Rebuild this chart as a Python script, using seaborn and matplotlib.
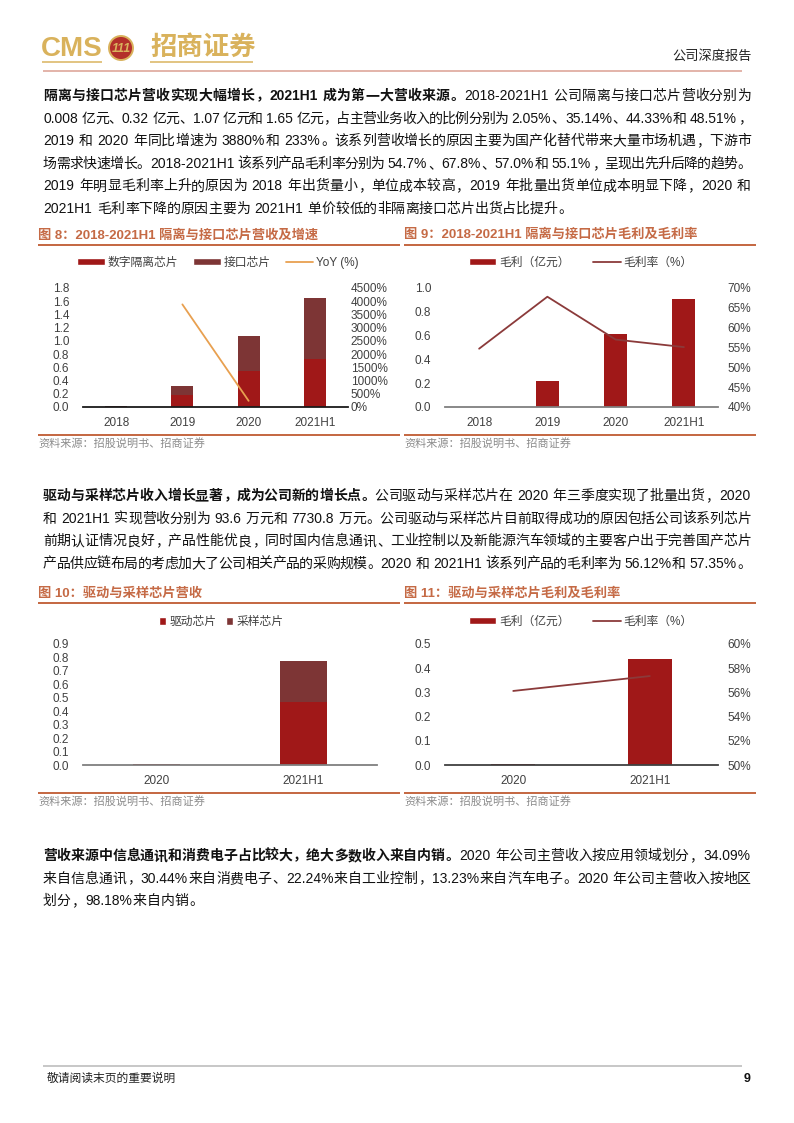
import numpy as np
import pandas as pd
import matplotlib
matplotlib.use("Agg")
import matplotlib.pyplot as plt
import seaborn as sns
from matplotlib.font_manager import FontProperties
from matplotlib.patches import Patch, Circle
from matplotlib.lines import Line2D

# ---------------- data ----------------
fig8_cats = ["2018", "2019", "2020", "2021H1"]
fig8_isolation = [0.005, 0.18, 0.54, 0.72]
fig8_interface = [0.003, 0.14, 0.53, 0.93]
fig8_yoy_cats = ["2019", "2020"]
fig8_yoy = [3880, 233]

fig9_cats = ["2018", "2019", "2020", "2021H1"]
fig9_gross = [0.004, 0.22, 0.61, 0.91]
fig9_margin = [54.7, 67.8, 57.0, 55.1]

fig10_cats = ["2020", "2021H1"]
fig10_driver = [0.004, 0.47]
fig10_sampling = [0.0054, 0.30]

fig11_cats = ["2020", "2021H1"]
fig11_gross = [0.0053, 0.44]
fig11_margin = [56.12, 57.35]

# ---------------- style ----------------
sns.set_style("white")
FAM = ["Liberation Sans", "Noto Sans CJK SC", "DejaVu Sans"]
plt.rcParams["font.family"] = FAM

RED = "#a01818"
BROWN = "#7d3535"
ORANGE = "#e8a050"
MLINE = "#8b3a3a"
TITLEC = "#c56a45"
GOLD = "#d9b25c"
LBL = "#404040"
TICKFS = 8.5

W, H = 794, 1123
fig = plt.figure(figsize=(W / 100, H / 100), dpi=100)
ov = fig.add_axes([0, 0, 1, 1])
ov.set_xlim(0, W)
ov.set_ylim(H, 0)
ov.axis("off")
renderer = fig.canvas.get_renderer()


def hline(x0, x1, y, color, px):
    ov.plot([x0, x1], [y, y], color=color, lw=px * 0.72, solid_capstyle="butt")


# ---------------- header / footer ----------------
ov.text(41, 49, "CMS", fontsize=20, fontweight="bold", color=GOLD, ha="left", va="center",
        family=["Liberation Sans"])
ov.add_patch(Circle((121, 48), 12, facecolor="#b3302a", edgecolor=GOLD, lw=1.4))
ov.text(121, 48.5, "111", fontsize=9, fontweight="bold", fontstyle="italic", color=GOLD,
        ha="center", va="center")
ov.text(150, 47, "招商证券", fontsize=19, fontweight="bold", color=GOLD, ha="left", va="center",
        family=["Noto Sans CJK SC"])
hline(42, 102, 62, GOLD, 1.5)
hline(150, 253, 62, GOLD, 1.5)
ov.text(752, 56, "公司深度报告", fontsize=9.5, color="#222222", ha="right", va="center")
hline(43, 742, 71, "#e3b5ab", 2)

hline(43, 742, 1066, "#c8c8c8", 2)
ov.text(47, 1079, "敬请阅读末页的重要说明", fontsize=8.5, color="#222222", ha="left", va="center")
ov.text(750, 1079, "9", fontsize=9, fontweight="bold", color="#111111", ha="right", va="center")

# ---------------- body text (justified) ----------------
FS = 10
EM = FS * 100 / 72.0


def fp_for(bold):
    return FontProperties(family=FAM, size=FS, weight="bold" if bold else "normal")


def tokenize(segs):
    out = []
    for text, bold in segs:
        buf = ""
        for ch in text:
            if ord(ch) < 128 and ch != " ":
                buf += ch
            else:
                if buf:
                    out.append((buf, bold, "a"))
                    buf = ""
                out.append((ch, bold, "s" if ch == " " else "c"))
        if buf:
            out.append((buf, bold, "a"))
    return out


def draw_line(segs, y, x0=43, x1=751, justify=True):
    toks = tokenize(segs)
    widths = []
    for t, b, k in toks:
        if k == "c":
            widths.append(EM)
        elif k == "s":
            widths.append(0.278 * EM)
        else:
            w, h, d = renderer.get_text_width_height_descent(t, fp_for(b), ismath=False)
            widths.append(w + 0.1 * EM)
    total = sum(widths)
    gap = (x1 - x0 - total) / max(len(toks) - 1, 1)
    if not justify:
        gap = min(gap, 0)
    x = x0
    yb = y + 0.36 * EM
    for (t, b, k), w in zip(toks, widths):
        if k == "c":
            if t in "，。、；：":
                ov.text(x + 0.05 * EM, yb, t, fontproperties=fp_for(b), ha="left", va="baseline", color="#111111")
            else:
                ov.text(x + w / 2, yb, t, fontproperties=fp_for(b), ha="center", va="baseline", color="#111111")
        elif k == "a":
            ov.text(x + 0.05 * EM, yb, t, fontproperties=fp_for(b), ha="left", va="baseline", color="#111111")
        x += w + gap


p1 = [
    [("隔离与接口芯片营收实现大幅增长，2021H1 成为第一大营收来源。", True), ("2018-2021H1 公司隔离与接口芯片营收分别为", False)],
    [("0.008 亿元、0.32 亿元、1.07 亿元和 1.65 亿元，占主营业务收入的比例分别为 2.05%、35.14%、44.33%和 48.51%，", False)],
    [("2019 和 2020 年同比增速为 3880%和 233%。该系列营收增长的原因主要为国产化替代带来大量市场机遇，下游市", False)],
    [("场需求快速增长。2018-2021H1 该系列产品毛利率分别为 54.7%、67.8%、57.0%和 55.1%，呈现出先升后降的趋势。", False)],
    [("2019 年明显毛利率上升的原因为 2018 年出货量小，单位成本较高，2019 年批量出货单位成本明显下降，2020 和", False)],
    [("2021H1 毛利率下降的原因主要为 2021H1 单价较低的非隔离接口芯片出货占比提升。", False)],
]
for i, segs in enumerate(p1):
    draw_line(segs, 95 + i * 22.6, justify=(i < len(p1) - 1))

p2 = [
    [("驱动与采样芯片收入增长显著，成为公司新的增长点。", True), ("公司驱动与采样芯片在 2020 年三季度实现了批量出货，2020", False)],
    [("和 2021H1 实现营收分别为 93.6 万元和 7730.8 万元。公司驱动与采样芯片目前取得成功的原因包括公司该系列芯片", False)],
    [("前期认证情况良好，产品性能优良，同时国内信息通讯、工业控制以及新能源汽车领域的主要客户出于完善国产芯片", False)],
    [("产品供应链布局的考虑加大了公司相关产品的采购规模。2020 和 2021H1 该系列产品的毛利率为 56.12%和 57.35%。", False)],
]
for i, segs in enumerate(p2):
    draw_line(segs, 495 + i * 22.6, justify=True)

p3 = [
    [("营收来源中信息通讯和消费电子占比较大，绝大多数收入来自内销。", True), ("2020 年公司主营收入按应用领域划分，34.09%", False)],
    [("来自信息通讯，30.44%来自消费电子、22.24%来自工业控制，13.23%来自汽车电子。2020 年公司主营收入按地区", False)],
    [("划分，98.18%来自内销。", False)],
]
for i, segs in enumerate(p3):
    draw_line(segs, 855 + i * 22.6, justify=(i < len(p3) - 1))


# ---------------- chart frames ----------------
def frame(x0, x1, ytitle, yline, ybottom, title):
    ov.text(x0, ytitle, title, fontsize=9.5, fontweight="bold", color=TITLEC, ha="left", va="center")
    hline(x0, x1, yline, TITLEC, 2)
    hline(x0, x1, ybottom, TITLEC, 2)
    ov.text(x0, ybottom + 8, "资料来源：招股说明书、招商证券", fontsize=8, color="#8c8c8c", ha="left", va="center")


frame(38, 400, 235, 245, 435, "图 8：2018-2021H1 隔离与接口芯片营收及增速")
frame(404, 756, 235, 245, 435, "图 9：2018-2021H1 隔离与接口芯片毛利及毛利率")
frame(38, 400, 594, 603, 793, "图 10：驱动与采样芯片营收")
frame(404, 756, 594, 603, 793, "图 11：驱动与采样芯片毛利及毛利率")


def px_axes(l, t, r, b):
    return fig.add_axes([l / W, 1 - b / H, (r - l) / W, (b - t) / H])


def style(ax, cats, ylim, yticks, fmt, pad, basec):
    n = len(cats)
    ax.set_xlim(-0.5, n - 0.5)
    ax.set_ylim(*ylim)
    ax.set_yticks(yticks)
    ax.set_yticklabels([fmt(v) for v in yticks])
    for s in ["top", "left", "right"]:
        ax.spines[s].set_visible(False)
    ax.spines["bottom"].set_color(basec)
    ax.spines["bottom"].set_linewidth(1.3)
    ax.set_xticks(range(n))
    ax.set_xticklabels(cats)
    ax.set_xticks(np.arange(-0.5, n, 1.0), minor=True)
    ax.tick_params(axis="x", which="major", length=0, pad=7, labelsize=TICKFS, labelcolor=LBL)
    ax.tick_params(axis="x", which="minor", length=3, width=1, color=basec, direction="out")
    ax.tick_params(axis="y", length=0, pad=pad, labelsize=TICKFS, labelcolor=LBL)
    ax.set_xlabel("")
    ax.set_ylabel("")
    ax.set_facecolor("none")
    ax.grid(False)


def style_twin(ax2, ylim, yticks, fmt, pad):
    ax2.set_ylim(*ylim)
    ax2.set_yticks(yticks)
    ax2.set_yticklabels([fmt(v) for v in yticks])
    for s in ["top", "left", "right", "bottom"]:
        ax2.spines[s].set_visible(False)
    ax2.tick_params(axis="y", length=0, pad=pad, labelsize=TICKFS, labelcolor=LBL)
    ax2.set_ylabel("")
    ax2.set_xlabel("")
    ax2.grid(False)


def legend(handles, labels, cx, cy, ncol, hl, hh, cs):
    fig.legend(handles, labels, loc="center", bbox_to_anchor=(cx / W, 1 - cy / H),
               bbox_transform=fig.transFigure, ncol=ncol, frameon=False, fontsize=8.5,
               handlelength=hl, handleheight=hh, handletextpad=0.25, columnspacing=cs,
               labelcolor=LBL)


# ---------------- Figure 8 ----------------
ax = px_axes(83, 288, 348, 407)
tot8 = [a + b for a, b in zip(fig8_isolation, fig8_interface)]
sns.barplot(x=fig8_cats, y=tot8, order=fig8_cats, color=BROWN, saturation=1, width=0.33,
            linewidth=0, errorbar=None, ax=ax)
sns.barplot(x=fig8_cats, y=fig8_isolation, order=fig8_cats, color=RED, saturation=1, width=0.33,
            linewidth=0, errorbar=None, ax=ax)
style(ax, fig8_cats, (0, 1.8), np.arange(0, 1.81, 0.2), lambda v: f"{v:.1f}", 10, "#1a1a1a")
ax2 = ax.twinx()
xpos8 = [fig8_cats.index(c) for c in fig8_yoy_cats]
sns.lineplot(x=xpos8, y=fig8_yoy, color=ORANGE, lw=1.3, ax=ax2)
style_twin(ax2, (0, 4500), np.arange(0, 4501, 500), lambda v: f"{v:.0f}%", 2)
ax2.set_xlim(-0.5, len(fig8_cats) - 0.5)
legend([Patch(facecolor=RED), Patch(facecolor=BROWN), Line2D([], [], color=ORANGE, lw=1.3)],
       ["数字隔离芯片", "接口芯片", "YoY (%)"], 218, 263, 3, 2.3, 0.55, 1.3)

# ---------------- Figure 9 ----------------
ax = px_axes(445, 288, 718, 407)
sns.barplot(x=fig9_cats, y=fig9_gross, order=fig9_cats, color=RED, saturation=1, width=0.34,
            linewidth=0, errorbar=None, ax=ax)
style(ax, fig9_cats, (0, 1.0), np.arange(0, 1.01, 0.2), lambda v: f"{v:.1f}", 10, "#7f7f7f")
ax2 = ax.twinx()
sns.lineplot(x=list(range(len(fig9_cats))), y=[m / 100 for m in fig9_margin], color=MLINE, lw=1.3, ax=ax2)
style_twin(ax2, (0.40, 0.70), np.arange(0.40, 0.701, 0.05), lambda v: f"{v * 100:.0f}%", 7)
ax2.set_xlim(-0.5, len(fig9_cats) - 0.5)
legend([Patch(facecolor=RED), Line2D([], [], color=MLINE, lw=1.3)],
       ["毛利（亿元）", "毛利率（%）"], 581, 263, 2, 2.3, 0.55, 2.0)

# ---------------- Figure 10 ----------------
ax = px_axes(83, 644, 377, 765)
tot10 = [a + b for a, b in zip(fig10_driver, fig10_sampling)]
sns.barplot(x=fig10_cats, y=tot10, order=fig10_cats, color=BROWN, saturation=1, width=0.32,
            linewidth=0, errorbar=None, ax=ax)
sns.barplot(x=fig10_cats, y=fig10_driver, order=fig10_cats, color=RED, saturation=1, width=0.32,
            linewidth=0, errorbar=None, ax=ax)
style(ax, fig10_cats, (0, 0.9), np.arange(0, 0.91, 0.1), lambda v: f"{v:.1f}", 10, "#7f7f7f")
legend([Patch(facecolor=RED), Patch(facecolor=BROWN)], ["驱动芯片", "采样芯片"], 221, 622, 2, 0.65, 0.65, 0.8)

# ---------------- Figure 11 ----------------
ax = px_axes(445, 644, 718, 765)
sns.barplot(x=fig11_cats, y=fig11_gross, order=fig11_cats, color=RED, saturation=1, width=0.32,
            linewidth=0, errorbar=None, ax=ax)
style(ax, fig11_cats, (0, 0.5), np.arange(0, 0.51, 0.1), lambda v: f"{v:.1f}", 10, "#404040")
ax2 = ax.twinx()
sns.lineplot(x=list(range(len(fig11_cats))), y=[m / 100 for m in fig11_margin], color=MLINE, lw=1.3, ax=ax2)
style_twin(ax2, (0.50, 0.60), np.arange(0.50, 0.601, 0.02), lambda v: f"{v * 100:.0f}%", 7)
ax2.set_xlim(-0.5, len(fig11_cats) - 0.5)
legend([Patch(facecolor=RED), Line2D([], [], color=MLINE, lw=1.3)],
       ["毛利（亿元）", "毛利率（%）"], 581, 622, 2, 2.3, 0.55, 2.0)

fig.savefig("out.png", dpi=100, facecolor="white")
